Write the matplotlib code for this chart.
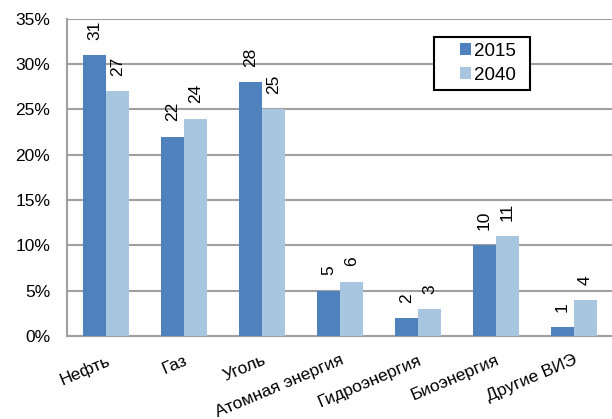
import numpy as np
import matplotlib
matplotlib.use('Agg')
import matplotlib.pyplot as plt
from matplotlib.patches import Rectangle
from matplotlib.ticker import PercentFormatter

categories = ['Нефть', 'Газ', 'Уголь', 'Атомная энергия', 'Гидроэнергия', 'Биоэнергия', 'Другие ВИЭ']
share_2015 = [31, 22, 28, 5, 2, 10, 1]
share_2040 = [27, 24, 25, 6, 3, 11, 4]
years = ['2015', '2040']

c2015 = '#4f81bd'
c2040 = '#a9c6e1'
grid_c = '#a0a0a0'

plt.rcParams['font.family'] = ['Liberation Sans', 'DejaVu Sans']

fig = plt.figure(figsize=(6.12, 4.19), dpi=100)
ax = fig.add_axes([0.1095, 0.198, 0.892, 0.757])

x = np.arange(len(categories))
w = 0.295
b1 = ax.bar(x - w / 2, share_2015, w, color=c2015, label=years[0], zorder=3)
b2 = ax.bar(x + w / 2, share_2040, w, color=c2040, label=years[1], zorder=3)

for bars, vals in ((b1, share_2015), (b2, share_2040)):
    for bar, v in zip(bars, vals):
        ax.annotate(str(v), (bar.get_x() + bar.get_width() / 2, bar.get_height()),
                    xytext=(0, 11), textcoords='offset points', rotation=90,
                    ha='center', va='bottom', fontsize=12.5)

ax.set_xlim(-0.5, len(categories) - 0.5)
ax.set_ylim(0, 35)
ax.set_yticks(range(0, 36, 5))
ax.yaxis.set_major_formatter(PercentFormatter(decimals=0))
ax.set_xticks(x)
ax.set_xticklabels(categories, rotation=23, ha='right', rotation_mode='anchor', fontsize=12.5)
ax.tick_params(axis='y', labelsize=12.5, length=0, pad=12)
ax.tick_params(axis='x', length=0, pad=12)

ax.grid(axis='y', color=grid_c, linewidth=1.5, zorder=0)
for side in ('top', 'right'):
    ax.spines[side].set_visible(False)
for side in ('left', 'bottom'):
    ax.spines[side].set_color(grid_c)
    ax.spines[side].set_linewidth(1.5)

# legend box drawn separately so the entries can sit off-centre inside it
fig.patches.append(Rectangle((0.709, 0.785), 0.157, 0.1265, transform=fig.transFigure,
                             facecolor='white', edgecolor='black', linewidth=1.5, zorder=5))
handles, labels = ax.get_legend_handles_labels()
leg = fig.legend(handles, labels, loc='center', bbox_to_anchor=(0.797, 0.849), fontsize=13.5,
                 handlelength=0.6, handleheight=0.6, handletextpad=0.15,
                 borderpad=0, labelspacing=0.35, frameon=False)
leg.set_zorder(6)

fig.savefig('out.png', dpi=100)
